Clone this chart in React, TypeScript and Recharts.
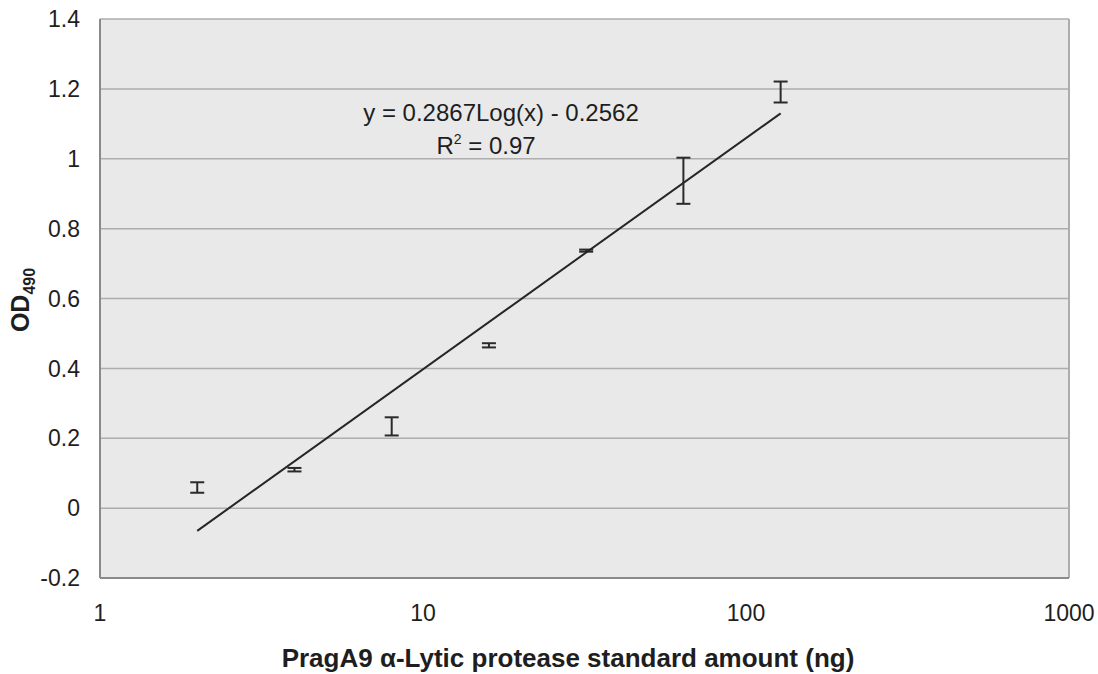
import {
  CartesianGrid,
  ComposedChart,
  Customized,
  ErrorBar,
  ReferenceLine,
  Scatter,
  XAxis,
  YAxis,
} from "recharts"

// standard amounts (ng) and mean OD490 with error
const amounts = [2, 4, 8, 16, 32, 64, 128]
const odMeans = [0.059, 0.11, 0.234, 0.466, 0.737, 0.937, 1.191]
const odErrors = [0.015, 0.005, 0.026, 0.006, 0.003, 0.066, 0.03]

const trendX = [2, 128]
const trendY = [-0.065, 1.13]

const xTicks = [1, 10, 100, 1000]
const yTicks = [-0.2, 0, 0.2, 0.4, 0.6, 0.8, 1, 1.2, 1.4]

const points = amounts.map((x, i) => ({ x, y: odMeans[i], err: odErrors[i] }))
const trend = trendX.map((x, i) => ({ x, y: trendY[i] }))

const font = "'Liberation Sans', Arial, sans-serif"
const ink = "#1e1e1e"

const Labels = () => (
  <g fontFamily={font} fill={ink}>
    <text x={501} y={121} fontSize={24} textAnchor="middle">
      y = 0.2867Log(x) - 0.2562
    </text>
    <text x={486} y={154} fontSize={24} textAnchor="middle">
      R<tspan dy={-10} fontSize={14}>2</tspan>
      <tspan dy={10}> = 0.97</tspan>
    </text>
    <text
      x={568}
      y={667}
      fontSize={26}
      fontWeight="bold"
      textAnchor="middle"
    >
      PragA9 α-Lytic protease standard amount (ng)
    </text>
    <text
      transform="rotate(-90, 29, 300)"
      x={29}
      y={300}
      fontSize={25}
      fontWeight="bold"
      textAnchor="middle"
    >
      OD<tspan dy={6} fontSize={16}>490</tspan>
    </text>
  </g>
)

export default function App() {
  return (
    <div style={{ position: "fixed", left: 0, top: 0, width: 1098, height: 674, background: "#fff" }}>
      <ComposedChart
        width={1098}
        height={674}
        margin={{ top: 19, right: 29, left: 0, bottom: 0 }}
      >
        <CartesianGrid
          vertical={false}
          fill="#e9e9e9"
          stroke="#adadad"
          strokeWidth={1.5}
          horizontalValues={yTicks}
        />
        <XAxis
          type="number"
          dataKey="x"
          scale="log"
          domain={[1, 1000]}
          ticks={xTicks}
          allowDataOverflow
          height={96}
          tickLine={false}
          tickSize={0}
          tickMargin={27}
          axisLine={{ stroke: "#8a8a8a", strokeWidth: 2 }}
          tick={{ fill: ink, fontSize: 23, fontFamily: font }}
        />
        <YAxis
          type="number"
          dataKey="y"
          domain={[-0.2, 1.4]}
          ticks={yTicks}
          allowDataOverflow
          width={100}
          tickLine={false}
          tickSize={0}
          tickMargin={20}
          axisLine={{ stroke: "#8a8a8a", strokeWidth: 2 }}
          tick={{ fill: ink, fontSize: 23, fontFamily: font }}
        />
        <ReferenceLine x={1000} stroke="#adadad" strokeWidth={2} />
        <Scatter
          data={trend}
          dataKey="y"
          line={{ stroke: "#262626", strokeWidth: 2 }}
          shape={() => <g />}
          isAnimationActive={false}
        />
        <Scatter
          data={points}
          dataKey="y"
          shape={() => <g />}
          isAnimationActive={false}
        >
          <ErrorBar
            dataKey="err"
            direction="y"
            width={7}
            stroke="#2a2a2a"
            strokeWidth={2}
            isAnimationActive={false}
          />
        </Scatter>
        <Customized component={Labels} />
      </ComposedChart>
    </div>
  )
}
